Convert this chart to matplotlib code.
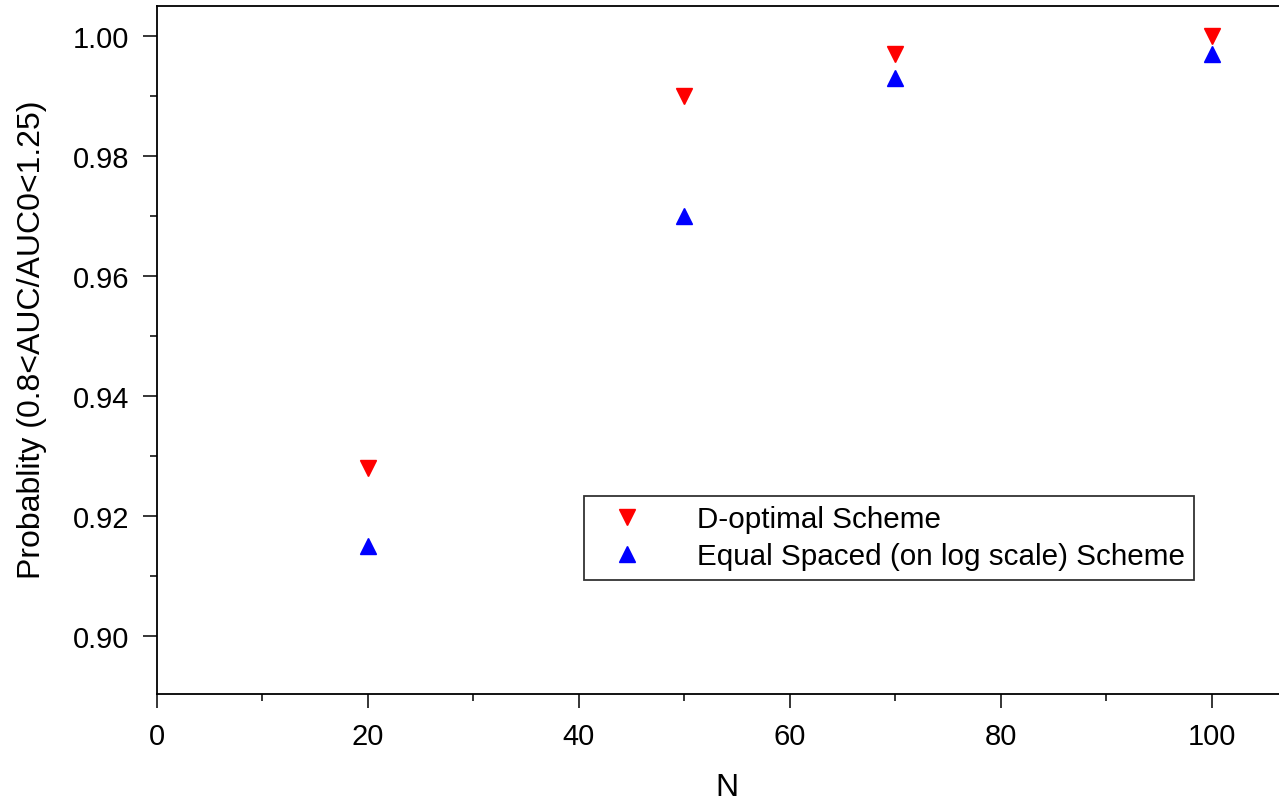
import matplotlib
matplotlib.use("Agg")
import matplotlib.pyplot as plt
from matplotlib.ticker import MultipleLocator

plt.rcParams['font.family'] = ['Liberation Sans', 'DejaVu Sans']

n_values = [20, 50, 70, 100]
d_optimal = [0.928, 0.990, 0.997, 1.000]
equal_spaced = [0.915, 0.970, 0.993, 0.997]

fig = plt.figure(figsize=(12.79, 8.04), dpi=100)
ax = fig.add_axes([157 / 1279, 1 - 695 / 804, 1 - 157 / 1279, (695 - 7) / 804])

ax.plot(n_values, d_optimal, linestyle='none', marker='v', markersize=12,
        color='#ff0000', label='D-optimal Scheme')
ax.plot(n_values, equal_spaced, linestyle='none', marker='^', markersize=12,
        color='#0000ff', label='Equal Spaced (on log scale) Scheme')

ax.set_xlim(0, 106.4)
ax.set_ylim(0.8903, 1.005)
ax.xaxis.set_major_locator(MultipleLocator(20))
ax.xaxis.set_minor_locator(MultipleLocator(10))
ax.yaxis.set_major_locator(MultipleLocator(0.02))
ax.yaxis.set_minor_locator(MultipleLocator(0.01))
ax.yaxis.set_major_formatter(plt.FormatStrFormatter('%.2f'))

ax.spines['right'].set_visible(False)
for s in ['left', 'bottom', 'top']:
    ax.spines[s].set_linewidth(1.3)
ax.tick_params(which='major', direction='out', length=10, width=1.1, labelsize=21, pad=10)
ax.tick_params(which='minor', direction='out', length=5, width=1.1)
ax.tick_params(top=False, right=False, which='both')

ax.set_xlabel('N', fontsize=23)
ax.set_ylabel('Probablity (0.8<AUC/AUC0<1.25)', fontsize=23)
ax.xaxis.set_label_coords((727 - 157) / 1122, -0.114)
ax.yaxis.set_label_coords(-0.098, 0.516)

leg = ax.legend(loc='upper left', bbox_to_anchor=((584 - 157) / 1122, 1 - (497 - 7) / 688),
                fontsize=21.3, frameon=True, fancybox=False, shadow=False,
                borderpad=0.32, handletextpad=1.23, labelspacing=0.3, handlelength=2.26,
                borderaxespad=0)
leg.get_frame().set_edgecolor('black')
leg.get_frame().set_linewidth(1.3)

fig.savefig('out.png', dpi=100)
